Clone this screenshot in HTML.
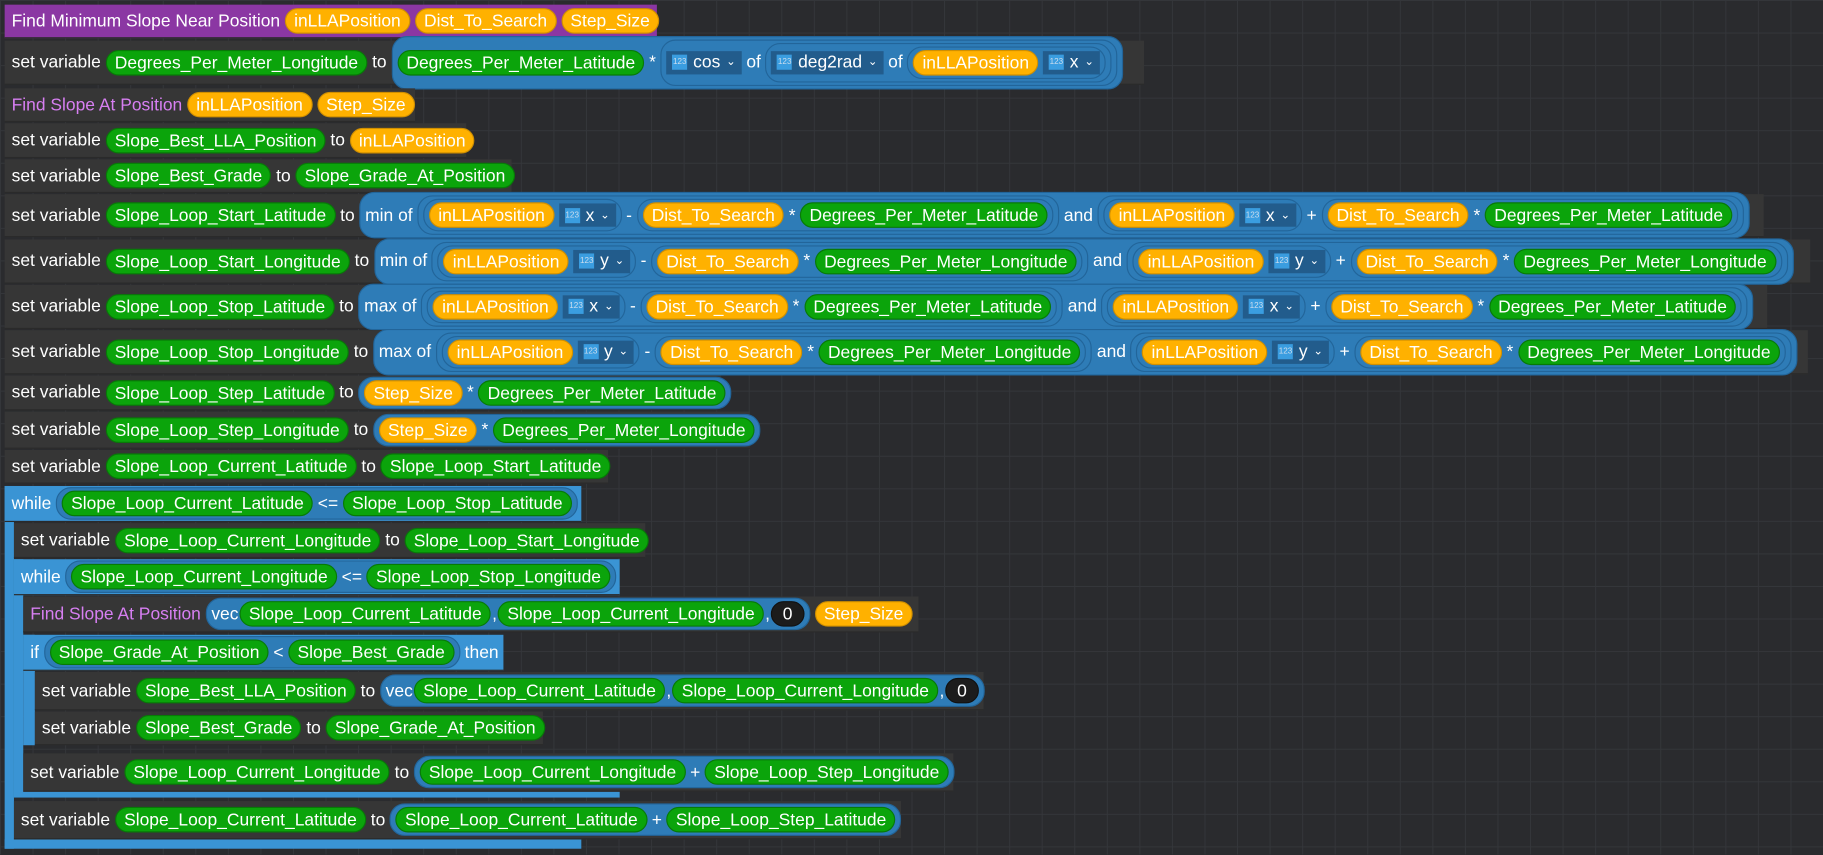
<!DOCTYPE html>
<html><head><meta charset="utf-8"><style>
body{margin:0;width:1823px;height:854px;overflow:hidden;background:#2a2b2e}
#w{position:absolute;left:0;top:0;width:1568px;height:735px;transform:scale(1.16263);transform-origin:0 0;
background-color:#2a2b2e;background-image:linear-gradient(#34363a 1px,transparent 1px),linear-gradient(90deg,#34363a 1px,transparent 1px);background-size:28px 28px;
font-family:"Liberation Sans",sans-serif;font-size:15px;color:#fff}
.r{position:absolute;left:4px;background:#363636;display:flex;align-items:center;padding-left:6px;box-sizing:border-box;gap:4px;white-space:nowrap;border-bottom:1px solid #2a2a2a}
.g,.o,.k{display:inline-block;height:22px;line-height:22px;border-radius:11px;padding:0 7px;box-sizing:border-box;color:#fff}
.g{background:#0ba40b;border:1px solid #077a07}
.o{background:#ffb100;border:1px solid #d08f00}
.k{background:#1c1c1c;border:1px solid #111;padding:0 9px}
.e{display:inline-flex;align-items:center;gap:4px;background:#2e7cb7;border:1px solid #22659a;border-radius:13px;padding:2px 4px;color:#fff}
.v{gap:1px}
.d{display:inline-flex;align-items:center;gap:5px;background:#225c8c;height:20px;padding:0 5px;font-size:15px}
.d i{display:inline-block;width:13px;height:13px;background:#3a9de0;font-size:7px;line-height:13px;text-align:center;font-style:normal;color:#cde}
.d b{font-weight:normal;font-size:10px}
.bl{position:absolute;background:#3a94d4}
</style></head><body><div id="w">

<div class="r" style="top:4px;height:29px;width:561px;background:#8b37a3">Find Minimum Slope Near Position <span class="o">inLLAPosition</span><span class="o">Dist_To_Search</span><span class="o">Step_Size</span></div>

<div class="r" style="top:35px;height:38px;width:980px">set variable <span class="g">Degrees_Per_Meter_Longitude</span> to <span class="e" style="padding:2px 4px"><span class="g">Degrees_Per_Meter_Latitude</span> * <span class="e"><span class="d"><i>123</i>cos <b>⌄</b></span> of <span class="e"><span class="d"><i>123</i>deg2rad <b>⌄</b></span> of <span class="e"><span class="o">inLLAPosition</span><span class="d"><i>123</i>x <b>⌄</b></span></span></span></span></span></div>

<div class="r" style="top:76px;height:29px;width:353px;color:#d77ff2">Find Slope At Position <span class="o">inLLAPosition</span><span class="o">Step_Size</span></div>

<div class="r" style="top:106px;height:30px;width:397px">set variable <span class="g">Slope_Best_LLA_Position</span> to <span class="o">inLLAPosition</span></div>

<div class="r" style="top:137px;height:29px;width:436px">set variable <span class="g">Slope_Best_Grade</span> to <span class="g">Slope_Grade_At_Position</span></div>

<div class="r" style="top:167px;height:37px;width:1513px">set variable <span class="g">Slope_Loop_Start_Latitude</span> to <span class="e">min of <span class="e"><span class="e"><span class="o">inLLAPosition</span><span class="d"><i>123</i>x <b>⌄</b></span></span> - <span class="e"><span class="o">Dist_To_Search</span> * <span class="g">Degrees_Per_Meter_Latitude</span></span></span> and <span class="e"><span class="e"><span class="o">inLLAPosition</span><span class="d"><i>123</i>x <b>⌄</b></span></span> + <span class="e"><span class="o">Dist_To_Search</span> * <span class="g">Degrees_Per_Meter_Latitude</span></span></span></span></div>

<div class="r" style="top:206px;height:38px;width:1553px">set variable <span class="g">Slope_Loop_Start_Longitude</span> to <span class="e">min of <span class="e"><span class="e"><span class="o">inLLAPosition</span><span class="d"><i>123</i>y <b>⌄</b></span></span> - <span class="e"><span class="o">Dist_To_Search</span> * <span class="g">Degrees_Per_Meter_Longitude</span></span></span> and <span class="e"><span class="e"><span class="o">inLLAPosition</span><span class="d"><i>123</i>y <b>⌄</b></span></span> + <span class="e"><span class="o">Dist_To_Search</span> * <span class="g">Degrees_Per_Meter_Longitude</span></span></span></span></div>

<div class="r" style="top:245px;height:38px;width:1516px">set variable <span class="g">Slope_Loop_Stop_Latitude</span> to <span class="e">max of <span class="e"><span class="e"><span class="o">inLLAPosition</span><span class="d"><i>123</i>x <b>⌄</b></span></span> - <span class="e"><span class="o">Dist_To_Search</span> * <span class="g">Degrees_Per_Meter_Latitude</span></span></span> and <span class="e"><span class="e"><span class="o">inLLAPosition</span><span class="d"><i>123</i>x <b>⌄</b></span></span> + <span class="e"><span class="o">Dist_To_Search</span> * <span class="g">Degrees_Per_Meter_Latitude</span></span></span></span></div>

<div class="r" style="top:284px;height:38px;width:1551px">set variable <span class="g">Slope_Loop_Stop_Longitude</span> to <span class="e">max of <span class="e"><span class="e"><span class="o">inLLAPosition</span><span class="d"><i>123</i>y <b>⌄</b></span></span> - <span class="e"><span class="o">Dist_To_Search</span> * <span class="g">Degrees_Per_Meter_Longitude</span></span></span> and <span class="e"><span class="e"><span class="o">inLLAPosition</span><span class="d"><i>123</i>y <b>⌄</b></span></span> + <span class="e"><span class="o">Dist_To_Search</span> * <span class="g">Degrees_Per_Meter_Longitude</span></span></span></span></div>

<div class="r" style="top:323px;height:30px;width:616px">set variable <span class="g">Slope_Loop_Step_Latitude</span> to <span class="e"><span class="o">Step_Size</span> * <span class="g">Degrees_Per_Meter_Latitude</span></span></div>

<div class="r" style="top:354px;height:32px;width:641px">set variable <span class="g">Slope_Loop_Step_Longitude</span> to <span class="e"><span class="o">Step_Size</span> * <span class="g">Degrees_Per_Meter_Longitude</span></span></div>

<div class="r" style="top:387px;height:29px;width:519px">set variable <span class="g">Slope_Loop_Current_Latitude</span> to <span class="g">Slope_Loop_Start_Latitude</span></div>

<div class="bl" style="left:4px;top:418px;width:8px;height:312px"></div>
<div class="bl" style="left:4px;top:722px;width:496px;height:8px"></div>
<div class="r" style="top:418px;height:31px;width:496px;background:#3a94d4">while <span class="e"><span class="g">Slope_Loop_Current_Latitude</span> &lt;= <span class="g">Slope_Loop_Stop_Latitude</span></span></div>

<div class="r" style="left:12px;top:450px;height:30px;width:543px">set variable <span class="g">Slope_Loop_Current_Longitude</span> to <span class="g">Slope_Loop_Start_Longitude</span></div>

<div class="bl" style="left:12px;top:481px;width:8px;height:204px"></div>
<div class="bl" style="left:12px;top:680px;width:521px;height:6px"></div>
<div class="r" style="left:12px;top:481px;height:31px;width:521px;background:#3a94d4">while <span class="e"><span class="g">Slope_Loop_Current_Longitude</span> &lt;= <span class="g">Slope_Loop_Stop_Longitude</span></span></div>

<div class="r" style="left:20px;top:513px;height:31px;width:770px;color:#d77ff2">Find Slope At Position <span class="e v">vec <span class="g">Slope_Loop_Current_Latitude</span>,<span class="g">Slope_Loop_Current_Longitude</span>,<span class="k">0</span></span><span class="o">Step_Size</span></div>

<div class="bl" style="left:20px;top:546px;width:10px;height:95px"></div>
<div class="r" style="left:20px;top:546px;height:31px;width:413px;background:#3a94d4">if <span class="e"><span class="g">Slope_Grade_At_Position</span> &lt; <span class="g">Slope_Best_Grade</span></span> then</div>

<div class="r" style="left:30px;top:578px;height:33px;width:816px">set variable <span class="g">Slope_Best_LLA_Position</span> to <span class="e v">vec <span class="g">Slope_Loop_Current_Latitude</span>,<span class="g">Slope_Loop_Current_Longitude</span>,<span class="k">0</span></span></div>

<div class="r" style="left:30px;top:612px;height:29px;width:437px">set variable <span class="g">Slope_Best_Grade</span> to <span class="g">Slope_Grade_At_Position</span></div>

<div class="r" style="left:20px;top:648px;height:33px;width:800px">set variable <span class="g">Slope_Loop_Current_Longitude</span> to <span class="e"><span class="g">Slope_Loop_Current_Longitude</span> + <span class="g">Slope_Loop_Step_Longitude</span></span></div>

<div class="r" style="left:12px;top:689px;height:33px;width:763px">set variable <span class="g">Slope_Loop_Current_Latitude</span> to <span class="e"><span class="g">Slope_Loop_Current_Latitude</span> + <span class="g">Slope_Loop_Step_Latitude</span></span></div>

</div></body></html>
